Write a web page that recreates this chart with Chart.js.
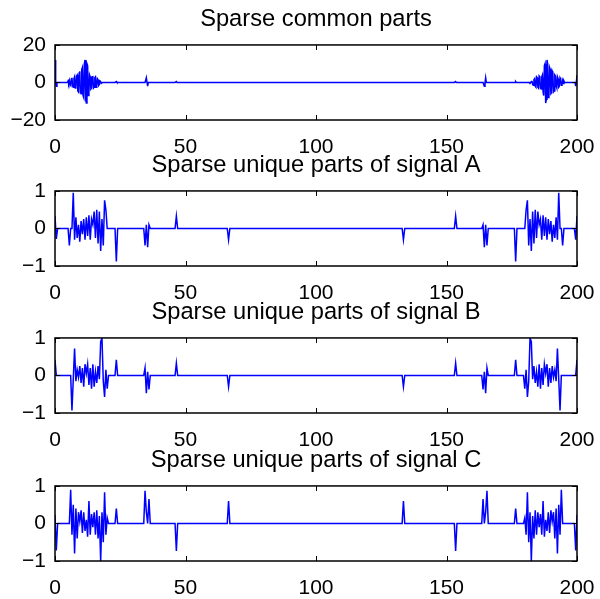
<!DOCTYPE html>
<html>
<head>
<meta charset="utf-8">
<script src="https://cdn.jsdelivr.net/npm/chart.js@4.4.0/dist/chart.umd.min.js"></script>
<style>
  body { margin: 0; background: #fff; }
  #wrap { position: relative; width: 600px; height: 599px; overflow: hidden; }
  #wrap canvas { position: absolute; left: 0; }
</style>
</head>
<body>
<div id="wrap">
  <canvas id="c0" width="600" height="158" style="top:0px"></canvas>
  <canvas id="c1" width="600" height="158" style="top:146px"></canvas>
  <canvas id="c2" width="600" height="158" style="top:293px"></canvas>
  <canvas id="c3" width="600" height="158" style="top:441px"></canvas>
</div>
<script>
// x ticks shared by all panels
var xTicks = [0, 50, 100, 150, 200];

// sparse common parts (nonzero samples only, baseline 0 elsewhere), 0.25 sample grid
var commonX = [0, 0.5,
  5, 5.25, 5.5, 5.75, 6, 6.25, 6.5, 6.75, 7, 7.25, 7.5, 7.75, 8, 8.25, 8.5, 8.75, 9, 9.25, 9.5, 9.75, 10, 10.25, 10.5, 10.75,
  11, 11.25, 11.5, 11.75, 12, 12.25, 12.5, 12.75, 13, 13.25, 13.5, 13.75, 14, 14.25, 14.5, 14.75, 15, 15.25, 15.5, 15.75,
  16, 16.25, 16.5, 16.75, 17, 17.25, 17.5, 17.75, 18,
  23.5, 35, 35.5, 46.5, 153.5, 164.5, 165, 176.5,
  182, 182.25, 182.5, 182.75, 183, 183.25, 183.5, 183.75, 184, 184.25, 184.5, 184.75, 185, 185.25, 185.5, 185.75,
  186, 186.25, 186.5, 186.75, 187, 187.25, 187.5, 187.75, 188, 188.25, 188.5, 188.75, 189, 189.25, 189.5, 189.75,
  190, 190.25, 190.5, 190.75, 191, 191.25, 191.5, 191.75, 192, 192.25, 192.5, 192.75, 193, 193.25, 193.5, 193.75,
  194, 194.25, 194.5, 194.75, 195,
  199.5, 200];
var commonY = [12, -2,
  0.8, -0.5, 1, -1, -1.5, 1.8, 2.5, -2, -2.5, 2, 3, -3, -2, 3.5, 4, -4.5, -5, 5, 6, -5.5, -6, 7, 8, -7,
  -8, 10, 12, -9, -11, 10, 9, -7, -5, 4, 3, -3.5, -3, 3, 3.5, -3, -2.5, 2.5, 3, -2.5,
  -2, 2, 1.5, -1.5, -1, 0.8, 0.5, -0.5, -0.5,
  0.5, 2.5, -2, 0.5, 0.5, -2, 2.5, 0.5,
  -0.5, -0.5, 0.5, 0.8, -1, -1.5, 1.5, 2, -2, -2.5, 3, 2.5, -2.5, -3, 3.5, 3,
  -3, -3.5, 3, 4, -5, -7, 9, 10, -11, -9, 12, 10, -8, -7, 8, 7,
  -6, -5.5, 6, 5, -5, -4.5, 4, 3.5, -2, -3, 3, 2, -2.5, -2, 2.5, 1.8,
  -1.5, -1, 1, -0.5, 0.8,
  -2, 4];

// signal A unique parts, 0.5 sample grid
var aX = [0, 0.5, 5.5, 7, 7.5, 8, 8.5, 9, 9.5, 10, 10.5, 11, 11.5, 12, 12.5, 13, 13.5, 14, 14.5, 15, 15.5, 16, 16.5, 17, 17.5, 18, 18.5, 19, 19.5, 23.5, 34.5, 35, 35.5, 36, 46.5, 66.5,
  133.5, 153.5, 164, 164.5, 165, 165.5, 176.5, 180.5, 181, 181.5, 182, 182.5, 183, 183.5, 184, 184.5, 185, 185.5, 186, 186.5, 187, 187.5, 188, 188.5, 189, 189.5, 190, 190.5, 191, 191.5, 192, 192.5, 193, 194.5, 199.5, 200];
var aY = [0.33, -0.28, -0.45, 0.95, -0.3, 0.3, -0.25, 0.1, -0.35, 0.2, -0.15, 0.25, -0.3, 0.3, -0.2, 0.35, -0.3, 0.25, 0.1, 0.45, -0.25, 0.5, -0.4, 0.45, -0.6, 0.25, -0.45, 0.75, 0.5, -0.88, -0.45, 0.1, -0.5, 0.1, 0.33, -0.3,
  -0.3, 0.33, 0.1, -0.5, 0.1, -0.45, -0.88, 0.5, 0.75, -0.45, 0.25, -0.6, 0.45, -0.4, 0.5, -0.25, 0.45, 0.1, 0.25, -0.3, 0.35, -0.2, 0.3, -0.3, 0.25, -0.15, 0.2, -0.35, 0.1, -0.25, 0.3, -0.3, 0.95, -0.45, -0.3, 0.33];

// signal B unique parts, 0.5 sample grid
var bX = [0, 6.5, 7, 7.5, 8, 8.5, 9, 9.5, 10, 10.5, 11, 11.5, 12, 12.5, 13, 13.5, 14, 14.5, 15, 15.5, 16, 16.5, 17, 17.5, 18, 18.5, 19, 19.5, 20, 23.5, 34.5, 35, 35.5, 36, 46.5, 66.5,
  133.5, 153.5, 164, 164.5, 165, 165.5, 176.5, 180, 180.5, 181, 181.5, 182, 182.5, 183, 183.5, 184, 184.5, 185, 185.5, 186, 186.5, 187, 187.5, 188, 188.5, 189, 189.5, 190, 190.5, 191, 191.5, 192, 192.5, 193, 193.5, 200];
var bY = [0.42, -0.93, -0.1, 0.72, -0.15, 0.15, -0.05, 0.25, -0.2, 0.2, -0.3, 0.3, 0.05, 0.3, -0.25, 0.2, -0.35, 0.3, -0.3, 0.1, -0.2, 0.25, -0.1, 0.9, 1.0, -0.15, -0.57, 0.15, -0.35, 0.42, 0.2, -0.47, 0.1, -0.37, 0.33, -0.3,
  -0.3, 0.33, -0.37, 0.1, -0.47, 0.2, 0.42, -0.35, 0.15, -0.57, -0.15, 1.0, 0.9, -0.1, 0.25, -0.2, 0.1, -0.3, 0.3, -0.35, 0.2, -0.25, 0.3, 0.05, 0.3, -0.3, 0.2, -0.2, 0.25, -0.05, 0.15, -0.15, 0.72, -0.1, -0.93, 0.42];

// signal C unique parts, 0.5 sample grid
var cX = [0, 0.5, 6, 6.5, 7, 7.5, 8, 8.5, 9, 9.5, 10, 10.5, 11, 11.5, 12, 12.5, 13, 13.5, 14, 14.5, 15, 15.5, 16, 16.5, 17, 17.5, 18, 18.5, 19, 19.5, 20, 23.5, 34.5, 35, 36, 46.5, 66.5,
  133.5, 153.5, 164, 165, 165.5, 176.5, 180, 180.5, 181, 181.5, 182, 182.5, 183, 183.5, 184, 184.5, 185, 185.5, 186, 186.5, 187, 187.5, 188, 188.5, 189, 189.5, 190, 190.5, 191, 191.5, 192, 192.5, 193, 193.5, 194, 199.5, 200];
var cY = [0.23, -0.72, 0.9, -0.3, 0.5, -0.8, 0.4, -0.4, 0.3, 0.05, 0.35, -0.25, 0.3, -0.2, 0.1, -0.35, 0.6, -0.3, 0.25, -0.1, 0.3, -0.3, 0.35, -0.4, 0.2, -1.0, 0.3, -0.5, 0.83, -0.3, 0.15, 0.4, 0.87, 0.3, 0.65, -0.73, 0.6,
  0.6, -0.73, 0.65, 0.3, 0.87, 0.4, 0.15, -0.3, 0.83, -0.5, 0.3, -1.0, 0.2, -0.4, 0.35, -0.3, 0.3, -0.1, 0.25, -0.3, 0.6, -0.35, 0.1, -0.2, 0.3, -0.25, 0.35, 0.05, 0.3, -0.4, 0.4, -0.8, 0.5, -0.3, 0.9, -0.72, 0.23];

var titles = ['Sparse common parts', 'Sparse unique parts of signal A', 'Sparse unique parts of signal B', 'Sparse unique parts of signal C'];
var yTicksCommon = [-20, 0, 20];
var yTicksUnique = [-1, 0, 1];

var FONT = '"Liberation Sans", Arial, Helvetica, sans-serif';

// fill the sample grid: listed samples keep their value, the rest sit on the baseline
function buildSeries(xs, ys, perUnit) {
  var pts = [];
  for (var i = 0; i <= 200 * perUnit; i++) {
    var x = i / perUnit;
    var k = xs.indexOf(x);
    pts.push({x: x, y: k >= 0 ? ys[k] : 0});
  }
  return pts;
}

// MATLAB style box with inward tick marks
var boxPlugin = {
  id: 'box',
  afterDraw: function(chart) {
    var a = chart.chartArea, ctx = chart.ctx;
    var xs = chart.scales.x, ys = chart.scales.y;
    ctx.save();
    ctx.strokeStyle = '#000';
    ctx.lineWidth = 1;
    ctx.beginPath();
    xs.ticks.forEach(function(t) {
      var px = Math.round(xs.getPixelForValue(t.value)) + 0.5;
      ctx.moveTo(px, a.bottom); ctx.lineTo(px, a.bottom - 5);
      ctx.moveTo(px, a.top); ctx.lineTo(px, a.top + 5);
    });
    ys.ticks.forEach(function(t) {
      var py = Math.round(ys.getPixelForValue(t.value)) + 0.5;
      ctx.moveTo(a.left, py); ctx.lineTo(a.left + 5, py);
      ctx.moveTo(a.right, py); ctx.lineTo(a.right - 5, py);
    });
    ctx.stroke();
    ctx.lineWidth = 1.5;
    ctx.strokeRect(a.left, a.top, a.right - a.left, a.bottom - a.top);
    ctx.restore();
  }
};

function makePanel(id, title, xs, ys, perUnit, yTicks) {
  var ymin = yTicks[0], ymax = yTicks[yTicks.length - 1];
  return new Chart(document.getElementById(id), {
    type: 'line',
    data: {
      datasets: [{
        data: buildSeries(xs, ys, perUnit),
        borderColor: '#0000ff',
        borderWidth: 1.5,
        pointRadius: 0,
        tension: 0,
        fill: false
      }]
    },
    options: {
      responsive: false,
      animation: false,
      devicePixelRatio: 1,
      layout: {padding: {left: 0, right: 23, top: 0, bottom: 0}},
      plugins: {
        legend: {display: false},
        tooltip: {enabled: false},
        title: {
          display: true,
          fullSize: false,
          text: title,
          color: '#000',
          font: {family: FONT, size: 23.7, weight: 'normal', lineHeight: 1.2},
          padding: {top: 5, bottom: 11.5}
        }
      },
      scales: {
        x: {
          type: 'linear',
          min: 0, max: 200,
          afterBuildTicks: function(s) { s.ticks = xTicks.map(function(v) { return {value: v}; }); },
          afterFit: function(s) { s.height = 38; s.paddingLeft = 0; s.paddingRight = 0; },
          grid: {display: false, drawTicks: false},
          border: {display: false},
          ticks: {color: '#000', font: {family: FONT, size: 21}, padding: 15, maxRotation: 0, autoSkip: false}
        },
        y: {
          min: ymin, max: ymax,
          afterBuildTicks: function(s) { s.ticks = yTicks.map(function(v) { return {value: v}; }); },
          afterFit: function(s) { s.width = 55; s.paddingTop = 0; s.paddingBottom = 0; },
          grid: {display: false, drawTicks: false},
          border: {display: false},
          ticks: {
            color: '#000', font: {family: FONT, size: 21}, padding: 9,
            callback: function(v) { return v < 0 ? '\u2212' + Math.abs(v) : String(v); }
          }
        }
      }
    },
    plugins: [boxPlugin]
  });
}

makePanel('c0', titles[0], commonX, commonY, 4, yTicksCommon);
makePanel('c1', titles[1], aX, aY, 2, yTicksUnique);
makePanel('c2', titles[2], bX, bY, 2, yTicksUnique);
makePanel('c3', titles[3], cX, cY, 2, yTicksUnique);
</script>
</body>
</html>
